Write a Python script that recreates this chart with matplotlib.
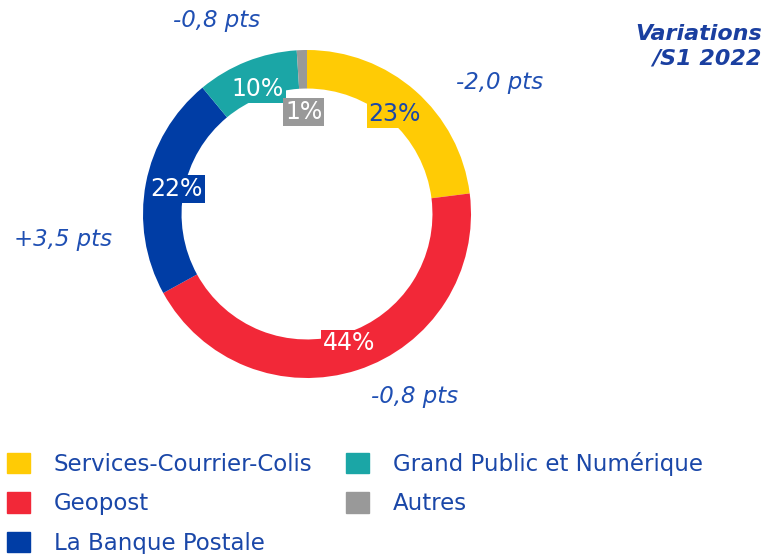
import matplotlib
matplotlib.use("Agg")
import matplotlib.pyplot as plt
import matplotlib.patches as mpatches
import numpy as np

categories = ["Services-Courrier-Colis", "Geopost", "La Banque Postale",
              "Grand Public et Numérique", "Autres"]
shares = [23, 44, 22, 10, 1]
variations = ["-2,0 pts", "-0,8 pts", "+3,5 pts", "-0,8 pts", ""]
colors = ["#FFCB05", "#F22838", "#003DA5", "#1BA6A6", "#999999"]
text_colors = ["#1a47a8", "white", "white", "white", "white"]
title_text = "Variations\n/S1 2022"

W, H = 767, 554
fig = plt.figure(figsize=(W / 100, H / 100), dpi=100)
font = "DejaVu Sans"
blue_txt = "#1f4fb3"

cx, cy, R = 307, 214, 164
ax = fig.add_axes([(cx - R) / W, (H - cy - R) / H, 2 * R / W, 2 * R / H])
wedges, _ = ax.pie(shares, colors=colors, startangle=90, counterclock=False,
                   radius=1, wedgeprops=dict(width=0.235, edgecolor="none"))
ax.set_xlim(-1, 1)
ax.set_ylim(-1, 1)
ax.set_aspect("equal")
ax.axis("off")

# percentage labels with coloured boxes
label_r = [0.81, 0.83, 0.81, 0.82, 0.62]
for w, s, c, tc, r in zip(wedges, shares, colors, text_colors, label_r):
    ang = np.deg2rad((w.theta1 + w.theta2) / 2)
    ax.text(r * np.cos(ang), r * np.sin(ang), f"{s}%", ha="center", va="center",
            fontsize=17, color=tc, family=font,
            bbox=dict(boxstyle="square,pad=0.08", fc=c, ec="none"))

# variation labels outside
var_pos = [(500, 83), (415, 396), (63, 240), (217, 21)]
for (px, py), v in zip(var_pos, variations):
    if v:
        fig.text(px / W, 1 - py / H, v, ha="center", va="center", fontsize=16.5,
                 style="italic", color=blue_txt, family=font)

fig.text(762 / W, 1 - 46 / H, title_text, ha="right", va="center", fontsize=16,
         style="italic", weight="bold", color="#1a3fa0", family=font,
         linespacing=1.25)

# legend
handles = [mpatches.Patch(color=c, label=l) for c, l in zip(colors, categories)]
leg = fig.legend(handles=handles, ncol=2, loc="upper left",
                 bbox_to_anchor=(0.0, 1 - 445 / H), frameon=False,
                 prop=dict(family=font, size=16.5), handlelength=1.0,
                 handleheight=1.0, labelspacing=0.72, columnspacing=1.45,
                 handletextpad=1.05, borderaxespad=0.0, borderpad=0.3)
for t in leg.get_texts():
    t.set_color("#1a47a8")

fig.savefig("out.png", dpi=100)
